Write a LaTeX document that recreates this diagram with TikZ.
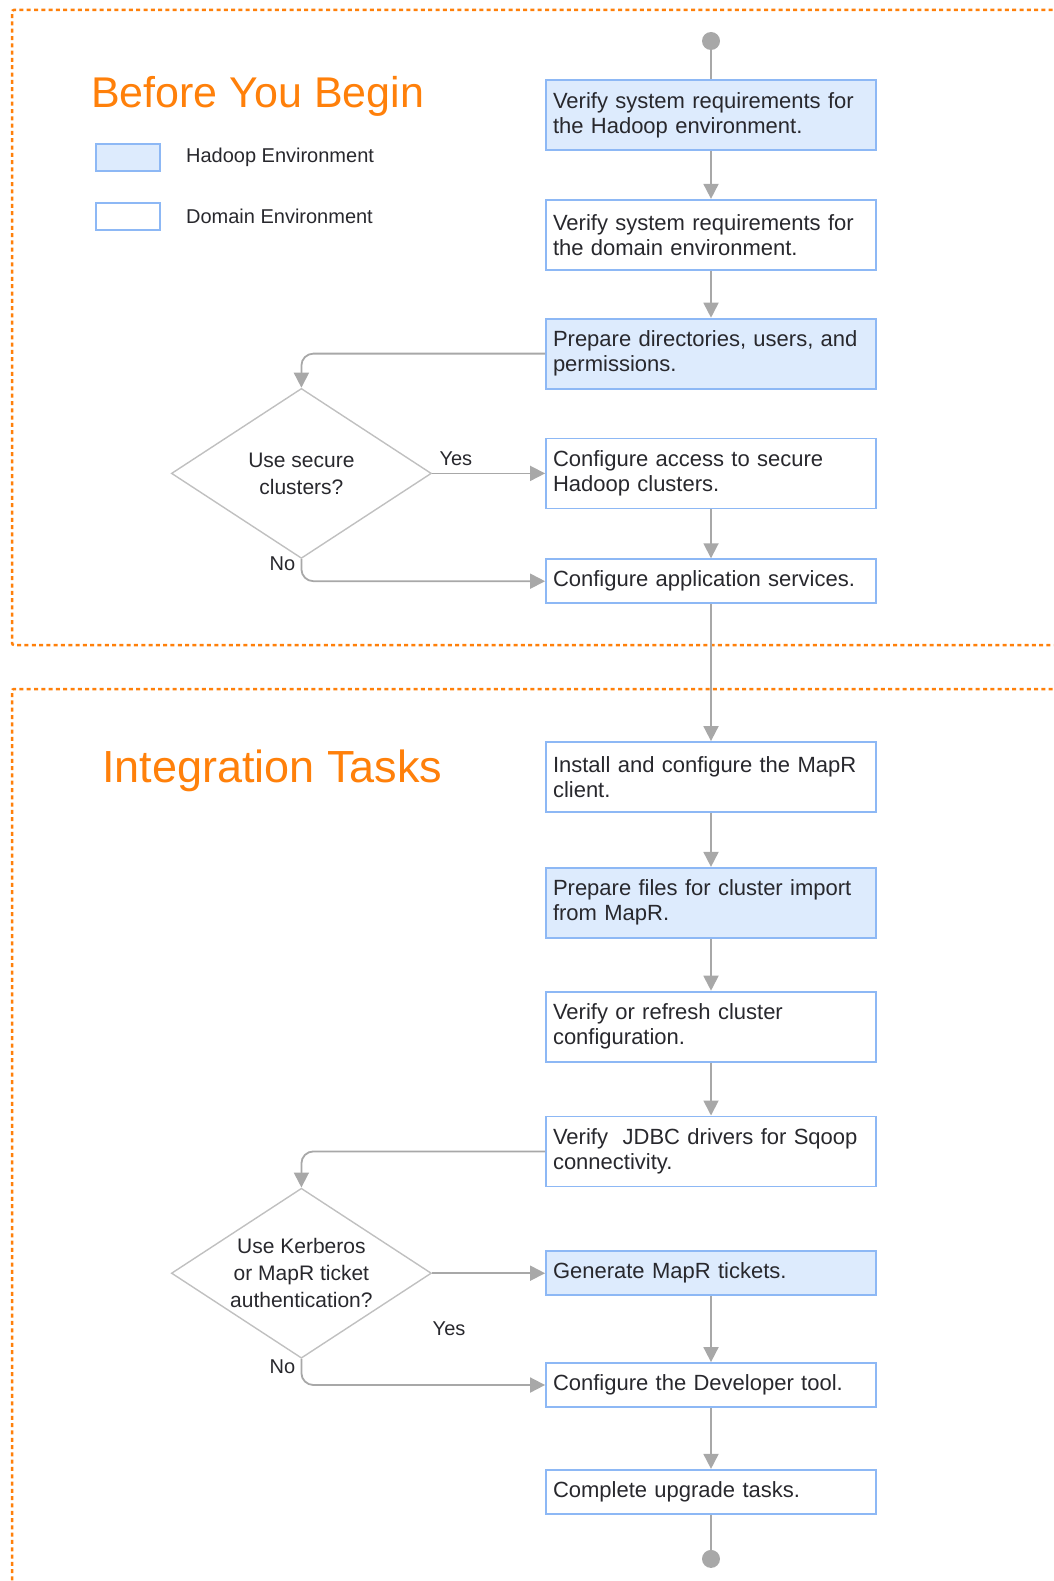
\documentclass[tikz,border=0pt]{standalone}
\usepackage{fontspec}
\setmainfont{Liberation Sans}
\usetikzlibrary{positioning, shapes.geometric, arrows.meta}

\definecolor{titleorange}{RGB}{255,128,10}
\definecolor{hadoopfill}{RGB}{221,235,253}
\definecolor{boxblue}{RGB}{141,184,245}
\definecolor{flowgray}{RGB}{168,168,168}
\definecolor{diagray}{RGB}{192,192,192}
\definecolor{txt}{RGB}{40,40,45}

\begin{document}
\begin{tikzpicture}[x=1pt, y=1pt, node distance={48pt},
    task/.style = {draw=boxblue, line width=1.8pt, text width=316pt, inner xsep=7pt, minimum height=70pt, align=left, text=txt, font=\fontsize{22}{25}\selectfont},
    hadoopbox/.style = {task, fill=hadoopfill},
    domainbox/.style = {task, fill=white},
    oneline/.style = {minimum height=44pt},
    decision/.style = {draw=diagray, line width=1.4pt, diamond, aspect=1.53, minimum width=260pt, minimum height=170pt, inner sep=0pt, align=center, text=txt, font=\fontsize{21}{27}\selectfont},
    dot/.style = {circle, fill=flowgray, minimum size=18pt, inner sep=0pt},
    key/.style = {draw=boxblue, line width=1.8pt, minimum width=64pt, minimum height=27pt, inner sep=0pt},
    keytext/.style = {inner sep=0pt, text=txt, font=\fontsize{20}{24}\selectfont},
    answer/.style = {text=txt, font=\fontsize{20}{24}\selectfont},
    heading/.style = {inner sep=0pt, text=titleorange},
    frame/.style = {draw=titleorange, line width=2.5pt, dash pattern=on 4pt off 3.3pt, rounded corners=2pt},
    link/.style = {draw=flowgray, line width=1.8pt},
    flow/.style = {link, -{Triangle[length=15pt, width=15pt]}}]
    \useasboundingbox (0,0) rectangle (1054,-1581);

    % section frames
    \draw[frame] (1060,-10) -| (12,-645) -- (1060,-645);
    \draw[frame] (1060,-689) -| (12,-1590);

    % headings and legend
    \node[heading, anchor=base west, font=\fontsize{43}{48}\selectfont] (beforetitle) at (91,-108) {Before You Begin};
    \node[heading, anchor=base west, font=\fontsize{45}{50}\selectfont] (integtitle) at (102,-782) {Integration Tasks};
    \node[key, fill=hadoopfill] (hadoopkey) at (128,-157.5) {};
    \node[key, fill=white] (domainkey) at (128,-216.5) {};
    \node[keytext, right=25pt of hadoopkey] (hadooplbl) {Hadoop Environment};
    \node[keytext, right=25pt of domainkey] (domainlbl) {Domain Environment};

    % before you begin
    \node[dot] (start) at (711,-41) {};
    \node[hadoopbox] (hadoopreq) at (711,-115) {Verify system requirements for\\the Hadoop environment.};
    \node[domainbox] (domainreq) [below=of hadoopreq] {Verify system requirements for\\the domain environment.};
    \node[hadoopbox] (prepdirs) [below=47pt of domainreq] {Prepare directories, users, and\\permissions.};
    \node[domainbox] (secureaccess) [below=of prepdirs] {Configure access to secure\\Hadoop clusters.};
    \node[domainbox, oneline] (appservices) [below=49pt of secureaccess] {Configure application services.};
    \node[decision] (securedq) [left=113pt of secureaccess] {Use secure\\clusters?};

    % integration tasks
    \node[domainbox] (mapclient) [below=137pt of appservices] {Install and configure the MapR\\client.};
    \node[hadoopbox] (clusterfiles) [below=54pt of mapclient] {Prepare files for cluster import\\from MapR.};
    \node[domainbox] (clusterconf) [below=52pt of clusterfiles] {Verify or refresh cluster\\configuration.};
    \node[domainbox] (jdbc) [below=53pt of clusterconf] {Verify~ JDBC drivers for Sqoop\\connectivity.};
    \node[hadoopbox, oneline] (maprtickets) [below=63pt of jdbc] {Generate MapR tickets.};
    \node[domainbox, oneline] (devtool) [below=66pt of maprtickets] {Configure the Developer tool.};
    \node[domainbox, oneline] (upgrade) [below=61pt of devtool] {Complete upgrade tasks.};
    \node[dot] (finish) [below=35pt of upgrade] {};
    \node[decision] (kerberosdq) [left=113pt of maprtickets] {Use Kerberos\\or MapR ticket\\authentication?};

    \draw[link] (start) -- (hadoopreq);
    \draw[flow] (hadoopreq) -- (domainreq);
    \draw[flow] (domainreq) -- (prepdirs);
    \draw[flow, rounded corners=12pt] (prepdirs.west) -| (securedq.north);
    \draw[flow] (securedq.east) -- node[answer, above=3pt, pos=0.21] {Yes} (secureaccess.west);
    \draw[flow, rounded corners=12pt] (securedq.south) |- node[answer, left=2pt, pos=0.1] {No} (appservices.west);
    \draw[flow] (secureaccess) -- (appservices);
    \draw[flow] (appservices) -- (mapclient);
    \draw[flow] (mapclient) -- (clusterfiles);
    \draw[flow] (clusterfiles) -- (clusterconf);
    \draw[flow] (clusterconf) -- (jdbc);
    \draw[flow, rounded corners=12pt] (jdbc.west) -| (kerberosdq.north);
    \draw[flow] (kerberosdq.east) -- node[answer, below=44pt, pos=0.15] {Yes} (maprtickets.west);
    \draw[flow, rounded corners=12pt] (kerberosdq.south) |- node[answer, left=2pt, pos=0.15] {No} (devtool.west);
    \draw[flow] (maprtickets) -- (devtool);
    \draw[flow] (devtool) -- (upgrade);
    \draw[link] (upgrade) -- (finish);
\end{tikzpicture}
\end{document}
